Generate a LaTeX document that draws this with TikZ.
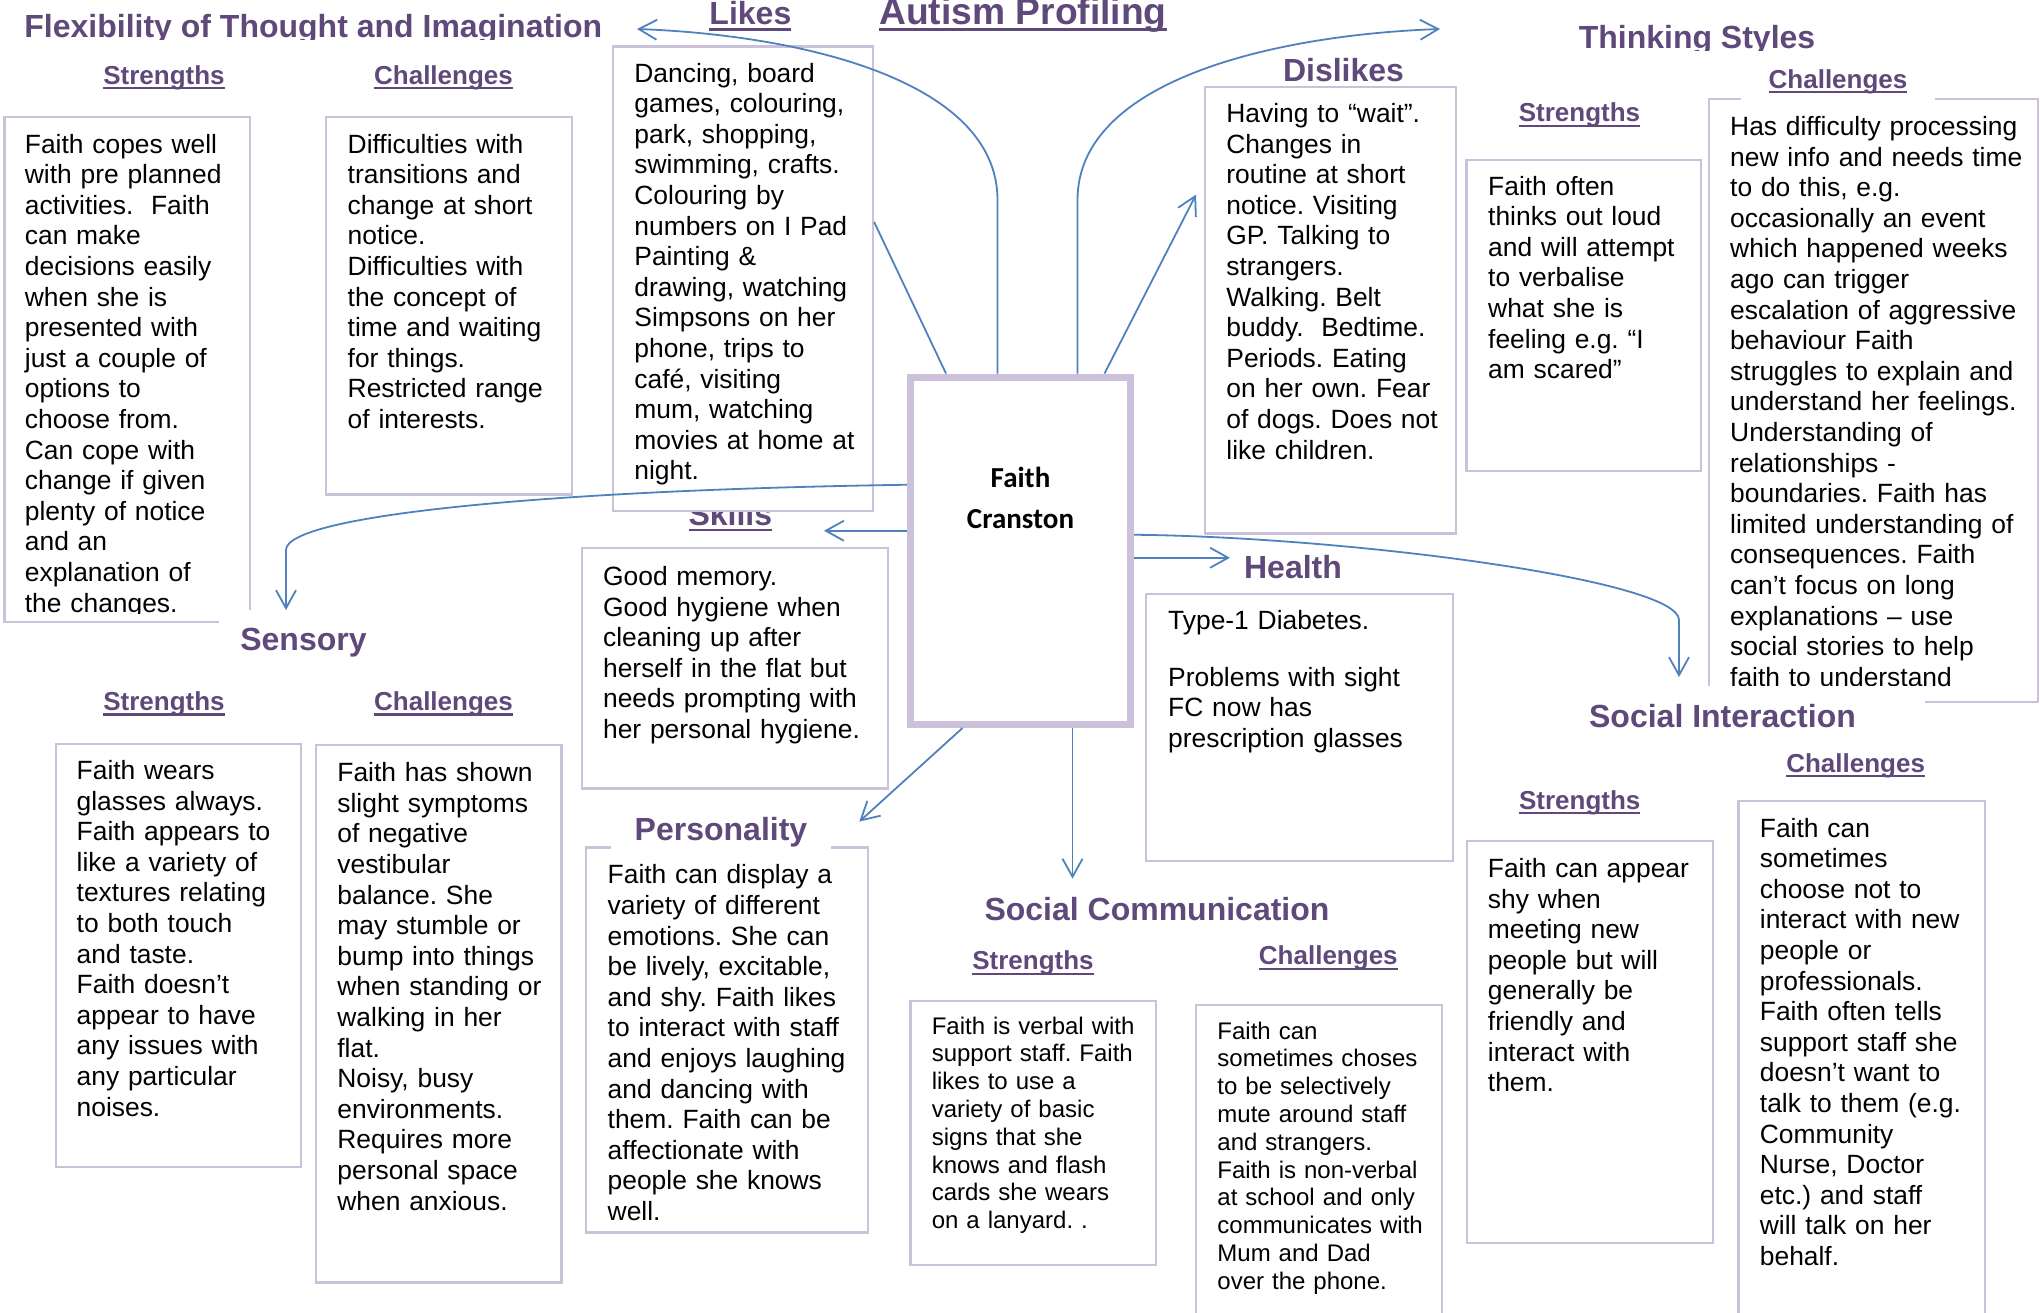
\documentclass[tikz,border=0pt]{standalone}
\usepackage{fontspec}
\setmainfont{Liberation Sans}
\newfontfamily\namefont{Carlito}
\usetikzlibrary{arrows.meta, positioning, calc, fit}

\definecolor{headpurple}{HTML}{5F497A}
\definecolor{panellilac}{HTML}{CCC1DA}
\definecolor{linkblue}{HTML}{4F81BD}

\newcommand{\undl}[1]{\setbox0=\hbox{#1}\rlap{\rule[-0.2em]{\wd0}{0.085em}}\box0}
\frenchspacing

\tikzset{
    panel/.style={draw=panellilac, line width=1.1pt, fill=white, inner sep=0pt},
    paneltext/.style={anchor=base west, inner sep=0pt, text width=170pt, align=left,
        font=\fontsize{13.2}{15.3}\selectfont},
    smalltext/.style={paneltext, font=\fontsize{12}{13.9}\selectfont},
    heading/.style={anchor=base, inner sep=0pt, text=headpurple,
        font=\bfseries\fontsize{16}{19}\selectfont},
    subheading/.style={anchor=base, inner sep=0pt, text=headpurple,
        font=\bfseries\fontsize{13}{15}\selectfont},
    link/.style={draw=linkblue, line width=0.9pt,
        -{Straight Barb[length=9pt, width=10pt]}}
}

\begin{document}
\begin{tikzpicture}[x=0.5pt, y=-0.5pt]

    \useasboundingbox (0,0) rectangle (2040,1312);

    % TITLES
    \begin{scope}
        \clip (0,0) rectangle (700,39);
        \node[heading, anchor=base west] (flextitle) at (24,37)
            {Flexibility of Thought and Imagination};
    \end{scope}
    \node[heading, font=\bfseries\fontsize{18.6}{22}\selectfont] (autismtitle)
        at (1023,24) {\undl{Autism Profiling}};
    \node[heading] (likestitle) at (750.4,24.3) {\undl{Likes}};
    \node[heading] (dislikestitle) at (1343.5,81.4) {Dislikes};
    \begin{scope}
        \clip (1500,0) rectangle (1900,50.5);
        \node[heading] (thinktitle) at (1697,48.2) {Thinking Styles};
    \end{scope}
    \node[heading] (skillstitle) at (730.3,525) {\undl{Skills}};
    \node[heading] (healthtitle) at (1293,578) {Health};
    \node[heading] (sctitle) at (1157,920.5) {Social Communication};

    % STRENGTHS / CHALLENGES
    \node[subheading] (flexstr) at (164,84) {\undl{Strengths}};
    \node[subheading] (flexchal) at (443.5,84) {\undl{Challenges}};
    \node[subheading] (thinkstr) at (1579.5,121.7) {\undl{Strengths}};
    \node[subheading] (sensstr) at (164,710.3) {\undl{Strengths}};
    \node[subheading] (senschal) at (443.5,710.3) {\undl{Challenges}};
    \node[subheading] (scstr) at (1033,969.5) {\undl{Strengths}};
    \node[subheading] (scchal) at (1328.3,964.5) {\undl{Challenges}};
    \node[subheading] (sistr) at (1579.7,809) {\undl{Strengths}};
    \node[subheading] (sichal) at (1855.6,772) {\undl{Challenges}};

    % BOXES
    \node[panel, fit={(4.5,117) (250,622)}] (flexSbox) {};
    \node[panel, fit={(326,117) (572,494.5)}] (flexCbox) {};
    \node[panel, fit={(613,46.5) (873,510.7)}] (likesbox) {};
    \node[panel, fit={(1205,87) (1456,533.5)}] (dislikesbox) {};
    \node[panel, fit={(1466.5,160) (1701,470.7)}] (thinkSbox) {};
    \node[panel, fit={(1709,98.7) (2037.6,701.6)}] (thinkCbox) {};
    \node[panel, fit={(582,548) (888,788.5)}] (skillsbox) {};
    \node[panel, fit={(1146,594) (1453,861)}] (healthbox) {};
    \node[panel, fit={(56.3,744) (301.3,1166.7)}] (sensSbox) {};
    \node[panel, fit={(316.3,745.3) (561.4,1282.5)}] (sensCbox) {};
    \node[panel, fit={(586,847.5) (868,1232.5)}] (persbox) {};
    \node[panel, fit={(910.4,1001) (1156,1265)}] (scSbox) {};
    \node[panel, fit={(1196.3,1005) (1442,1340)}] (scCbox) {};
    \node[panel, fit={(1466.8,841) (1713,1243)}] (siSbox) {};
    \node[panel, fit={(1738.5,801) (1985,1340)}] (siCbox) {};

    % BOX TEXTS
    \begin{scope}
        \clip (0,0) rectangle (260,613.5);
        \node[paneltext] (flexStext) at (24.5,153) {Faith copes well\\
            with pre planned\\ activities.\ \ Faith\\ can make\\
            decisions easily\\ when she is\\ presented with\\
            just a couple of\\ options to\\ choose from.\\
            Can cope with\\ change if given\\ plenty of notice\\
            and an\\ explanation of\\ the changes.};
    \end{scope}
    \node[paneltext] (flexCtext) at (347.3,153) {Difficulties with\\
        transitions and\\ change at short\\ notice.\\ Difficulties with\\
        the concept of\\ time and waiting\\ for things.\\
        Restricted range\\ of interests.};
    \node[paneltext] (likestext) at (634,82) {Dancing, board\\
        games, colouring,\\ park, shopping,\\ swimming, crafts.\\
        Colouring by\\ numbers on I Pad\\ Painting \&\\
        drawing, watching\\ Simpsons on her\\ phone, trips to\\
        café, visiting\\ mum, watching\\ movies at home at\\ night.};
    \node[paneltext] (dislikestext) at (1226,122.5) {Having to “wait”.\\
        Changes in\\ routine at short\\ notice. Visiting\\
        GP. Talking to\\ strangers.\\ Walking. Belt\\
        buddy.\ \ Bedtime.\\ Periods. Eating\\ on her own. Fear\\
        of dogs. Does not\\ like children.};
    \node[paneltext] (thinkStext) at (1487.8,195) {Faith often\\
        thinks out loud\\ and will attempt\\ to verbalise\\
        what she is\\ feeling e.g. “I\\ am scared”};
    \node[paneltext] (thinkCtext) at (1729.8,135.4) {Has difficulty processing\\
        new info and needs time\\ to do this, e.g.\\
        occasionally an event\\ which happened weeks\\
        ago can trigger\\ escalation of aggressive\\ behaviour Faith\\
        struggles to explain and\\ understand her feelings.\\
        Understanding of\\ relationships -\\ boundaries. Faith has\\
        limited understanding of\\ consequences. Faith\\
        can’t focus on long\\ explanations – use\\
        social stories to help\\ faith to understand};
    \node[paneltext] (skillstext) at (602.7,585.5) {Good memory.\\
        Good hygiene when\\ cleaning up after\\ herself in the flat but\\
        needs prompting with\\ her personal hygiene.};
    \node[paneltext] (healthtext) at (1167.8,629.6) {Type-1 Diabetes.\\[12.9pt]
        Problems with sight\\ FC now has\\ prescription glasses};
    \node[paneltext] (sensStext) at (76.3,779.4) {Faith wears\\
        glasses always.\\ Faith appears to\\ like a variety of\\
        textures relating\\ to both touch\\ and taste.\\
        Faith doesn’t\\ appear to have\\ any issues with\\
        any particular\\ noises.};
    \node[paneltext] (sensCtext) at (337,781.6) {Faith has shown\\
        slight symptoms\\ of negative\\ vestibular\\ balance. She\\
        may stumble or\\ bump into things\\ when standing or\\
        walking in her\\ flat.\\ Noisy, busy\\ environments.\\
        Requires more\\ personal space\\ when anxious.};
    \node[paneltext] (perstext) at (607.3,883.8) {Faith can display a\\
        variety of different\\ emotions. She can\\ be lively, excitable,\\
        and shy. Faith likes\\ to interact with staff\\
        and enjoys laughing\\ and dancing with\\ them. Faith can be\\
        affectionate with\\ people she knows\\ well.};
    \node[smalltext] (scStext) at (931.4,1034) {Faith is verbal with\\
        support staff. Faith\\ likes to use a\\ variety of basic\\
        signs that she\\ knows and flash\\ cards she wears\\
        on a lanyard. .};
    \node[smalltext] (scCtext) at (1217,1039) {Faith can\\
        sometimes choses\\ to be selectively\\ mute around staff\\
        and strangers.\\ Faith is non-verbal\\ at school and only\\
        communicates with\\ Mum and Dad\\ over the phone.};
    \node[paneltext] (siStext) at (1487.5,877.5) {Faith can appear\\
        shy when\\ meeting new\\ people but will\\ generally be\\
        friendly and\\ interact with\\ them.};
    \node[paneltext] (siCtext) at (1759.5,837) {Faith can\\
        sometimes\\ choose not to\\ interact with new\\ people or\\
        professionals.\\ Faith often tells\\ support staff she\\
        doesn’t want to\\ talk to them (e.g.\\ Community\\
        Nurse, Doctor\\ etc.) and staff\\ will talk on her\\ behalf.};

    % HEADINGS OVER BOX EDGES
    \node[subheading, fill=white, inner xsep=13.75pt, inner ysep=4pt] (thinkchal)
        at (1838,88) {\undl{Challenges}};
    \node[heading, fill=white, inner xsep=34.75pt, inner ysep=9pt] (sititle)
        at (1722.5,727.6) {Social Interaction};
    \node[heading, fill=white, inner xsep=10.5pt, inner ysep=9pt] (senstitle)
        at (303.5,650) {Sensory};
    \node[heading, fill=white, inner xsep=11.75pt, inner ysep=3pt] (perstitle)
        at (721,840.6) {Personality};

    % FAITH CRANSTON
    \node[draw=panellilac, line width=3.5pt, fill=white, inner sep=0pt,
        minimum width=110pt, minimum height=173.75pt] (faith) at (1020.5,550.75) {};
    \node[anchor=base, inner sep=0pt, text width=100pt, align=center,
        font=\namefont\bfseries\fontsize{14.5}{20.25}\selectfont] (faithname)
        at (1020.5,487.5) {Faith\\Cranston};

    % ARROW ENDS
    \coordinate (likestip) at (637,29);
    \coordinate (thinktip) at (1440,29);
    \coordinate (dislikestip) at (1196,194.6);
    \coordinate (senstip) at (286,610);
    \coordinate (skillstip) at (824,530.75);
    \coordinate (healthtip) at (1230,557.75);
    \coordinate (sitip) at (1679,677);
    \coordinate (sctip) at (1072.5,878.6);
    \coordinate (perstip) at (859.3,821.6);

    % ARROWS
    \draw[link] ([xshift=-11.5pt]faith.north) -- (997.5,200)
        .. controls (997.5,80) and (800,35) .. (likestip);
    \draw[link, -] ([xshift=-37.25pt]faith.north)
        -- ($(likesbox.north east)+(0,176.5)$);
    \draw[link] ([xshift=42pt]faith.north) -- (dislikestip);
    \draw[link] ([xshift=28.5pt]faith.north) -- (1077.5,200)
        .. controls (1077.5,80) and (1275,35) .. (thinktip);
    \draw[link] ([yshift=33pt]faith.west)
        .. controls (550,490) and (286,515) .. (286,550) -- (senstip);
    \draw[link] ([yshift=10pt]faith.west) -- (skillstip);
    \draw[link] ([yshift=8pt]faith.east)
        .. controls (1350,537) and (1679,580) .. (1679,620) -- (sitip);
    \draw[link] ([yshift=-3.5pt]faith.east) -- (healthtip);
    \draw[link] ([xshift=26pt]faith.south) -- (sctip);
    \draw[link] ([xshift=-29pt]faith.south) -- (perstip);

\end{tikzpicture}
\end{document}
